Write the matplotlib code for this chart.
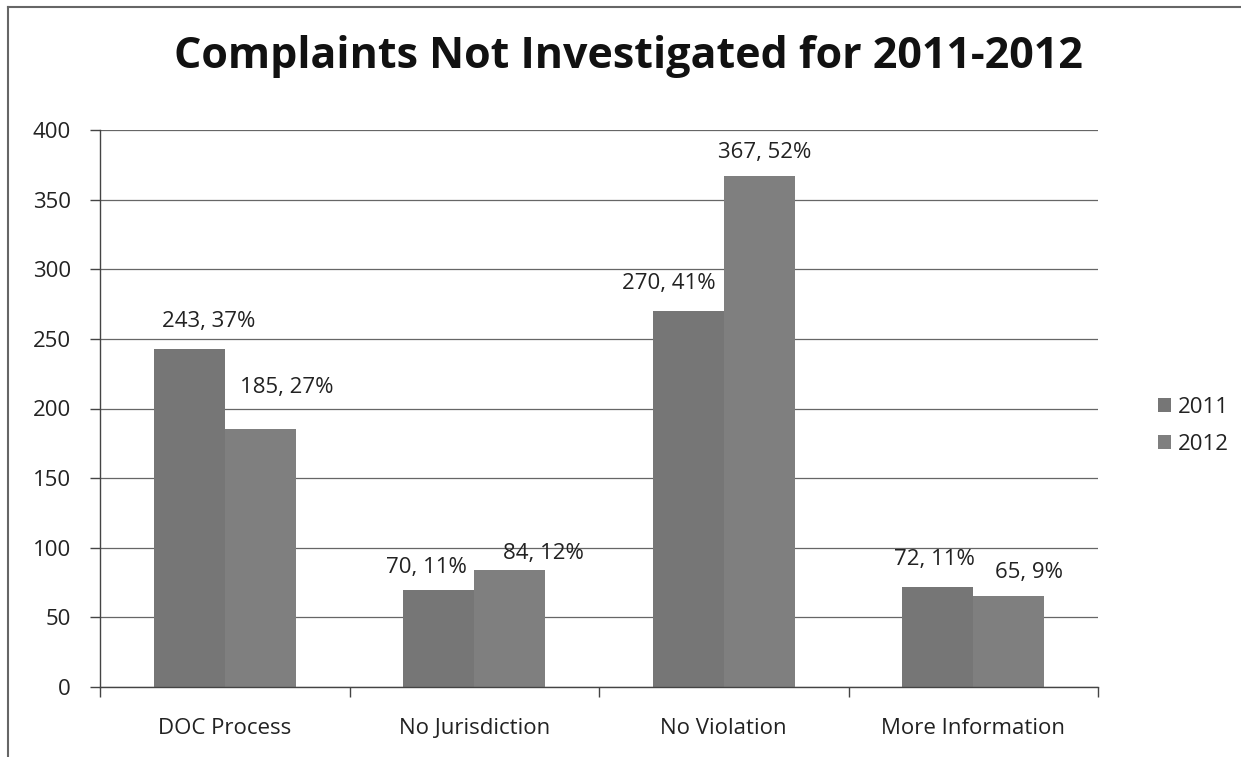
import numpy as np
import matplotlib
matplotlib.use("Agg")
import matplotlib.pyplot as plt
from matplotlib.patches import Patch

# complaints not investigated, by reason
categories = ["DOC Process", "No Jurisdiction", "No Violation", "More Information"]
years = ["2011", "2012"]
counts_2011 = [243, 70, 270, 72]
counts_2012 = [185, 84, 367, 65]
pct_2011 = [37, 11, 41, 11]
pct_2012 = [27, 12, 52, 9]

colors = ["#767676", "#7f7f7f"]
plt.rcParams["font.family"] = ["Open Sans", "DejaVu Sans"]

fig = plt.figure(figsize=(12.41, 7.57), dpi=100)
ax = fig.add_axes([100 / 1241, 1 - 687 / 757, 998 / 1241, 557 / 757])

x = np.arange(len(categories))
w = 0.285
b1 = ax.bar(x - w / 2, counts_2011, w, color=colors[0], zorder=2)
b2 = ax.bar(x + w / 2, counts_2012, w, color=colors[1], zorder=2)

# label offsets (px) so the text doesn't collide with neighbouring bars
off_2011 = [(19, 27), (-12, 22), (-19, 28), (-3, 27)]
off_2012 = [(26, 42), (34, 17), (5, 23), (20, 24)]
for bars, vals, pcts, offs in [(b1, counts_2011, pct_2011, off_2011),
                               (b2, counts_2012, pct_2012, off_2012)]:
    for rect, v, p, (dx, dy) in zip(bars, vals, pcts, offs):
        ax.annotate(f"{v}, {p}%", (rect.get_x() + rect.get_width() / 2, v),
                    xytext=(dx * 0.72, dy * 0.72), textcoords="offset points",
                    ha="center", va="center", fontsize=16, color="#222222")

ax.set_xlim(-0.5, len(categories) - 0.5)
ax.set_ylim(0, 400)
ax.set_yticks(np.arange(0, 401, 50))
ax.yaxis.grid(True, color="#666666", linewidth=0.9, zorder=0)
ax.set_axisbelow(True)

ax.set_xticks(x)
ax.set_xticklabels(categories, fontsize=16, color="#222222")
ax.set_xticks(np.arange(-0.5, len(categories)), minor=True)
ax.tick_params(axis="x", which="major", length=0, pad=22)
ax.tick_params(axis="x", which="minor", length=7, width=1, color="#444444", direction="out")
ax.tick_params(axis="y", length=7, width=1, color="#444444", pad=14, labelsize=16,
               labelcolor="#222222")

for side in ["top", "right"]:
    ax.spines[side].set_visible(False)
for side in ["left", "bottom"]:
    ax.spines[side].set_color("#444444")
    ax.spines[side].set_linewidth(1.0)

fig.text(628 / 1241, 1 - 57 / 757, "Complaints Not Investigated for 2011-2012",
         ha="center", va="center", fontsize=31, fontweight="bold", color="#111111")

handles = [Patch(facecolor=c, edgecolor="none") for c in colors]
fig.legend(handles, years, loc="center left", bbox_to_anchor=(1138 / 1241, 1 - 426 / 757),
           frameon=False, fontsize=16, handlelength=0.6, handleheight=0.6,
           handletextpad=0.3, labelspacing=0.7, labelcolor="#222222")

# frame left/top edges of the chart area
fig.add_artist(plt.Line2D([8 / 1241, 8 / 1241], [0, 1 - 7 / 757], transform=fig.transFigure,
                          color="#666666", linewidth=1.5))
fig.add_artist(plt.Line2D([8 / 1241, 1], [1 - 7 / 757, 1 - 7 / 757], transform=fig.transFigure,
                          color="#666666", linewidth=1.5))

fig.savefig("out.png", dpi=100)
